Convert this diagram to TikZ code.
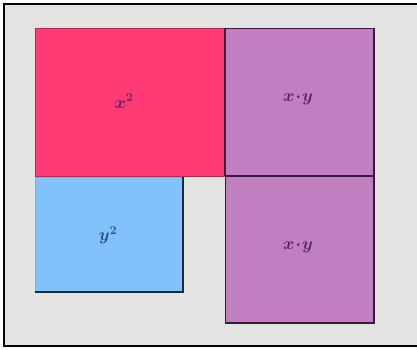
\documentclass[tikz,border=0pt]{standalone}
\begin{document}
\begin{tikzpicture}[x=1pt,y=-1pt,
  lbl/.style={text=labcol,font=\fontsize{18}{22}\selectfont\boldmath},
  tile/.style={line width=0.8pt}]
\definecolor{bgcol}{HTML}{E3E3E1}
\definecolor{pinkcol}{HTML}{FF3A74}
\definecolor{purpcol}{HTML}{C07FC0}
\definecolor{bluecol}{HTML}{82C2FA}
\definecolor{labcol}{HTML}{5A2460}
\definecolor{edgecol}{HTML}{3A1A3E}
\definecolor{bedge}{HTML}{1A2A40}
\definecolor{blab}{HTML}{2A4A86}
\useasboundingbox (0,0) rectangle (417,350);
\fill[white] (0,0) rectangle (417,350);
\fill[bgcol] (4,4) rectangle (420,346);
\draw[line width=1.5pt,black] (420,4) -- (4,4) -- (4,346) -- (420,346);
% pink square
\draw[tile,fill=pinkcol,draw=pinkcol!70!black] (35,28) rectangle (225,176);
\node[lbl] (xx) at (124,101) {$x^2$};
% top purple
\draw[tile,fill=purpcol,draw=edgecol] (225,28) rectangle (374,176);
\draw[edgecol,line width=1.6pt] (225,28) -- (225,176);
\draw[edgecol,line width=1.8pt] (374,28) -- (374,176) -- (225,176);
\node[lbl] (xy1) at (298,99) {$x\!\cdot\! y$};
% blue square
\draw[tile,fill=bluecol,draw=gray!70] (35,177) rectangle (183,292);
\draw[bedge,line width=1.8pt] (183,177) -- (183,292) -- (35,292);
\node[lbl,text=blab] (yy) at (108,235) {$y^2$};
% bottom purple
\draw[tile,fill=purpcol,draw=edgecol] (225,176) rectangle (374,323);
\draw[edgecol,line width=1.8pt] (374,176) -- (374,323) -- (225,323);
\draw[edgecol,line width=1.8pt] (225,176) -- (374,176);
\node[lbl] (xy2) at (298,247) {$x\!\cdot\! y$};
\end{tikzpicture}
\end{document}
